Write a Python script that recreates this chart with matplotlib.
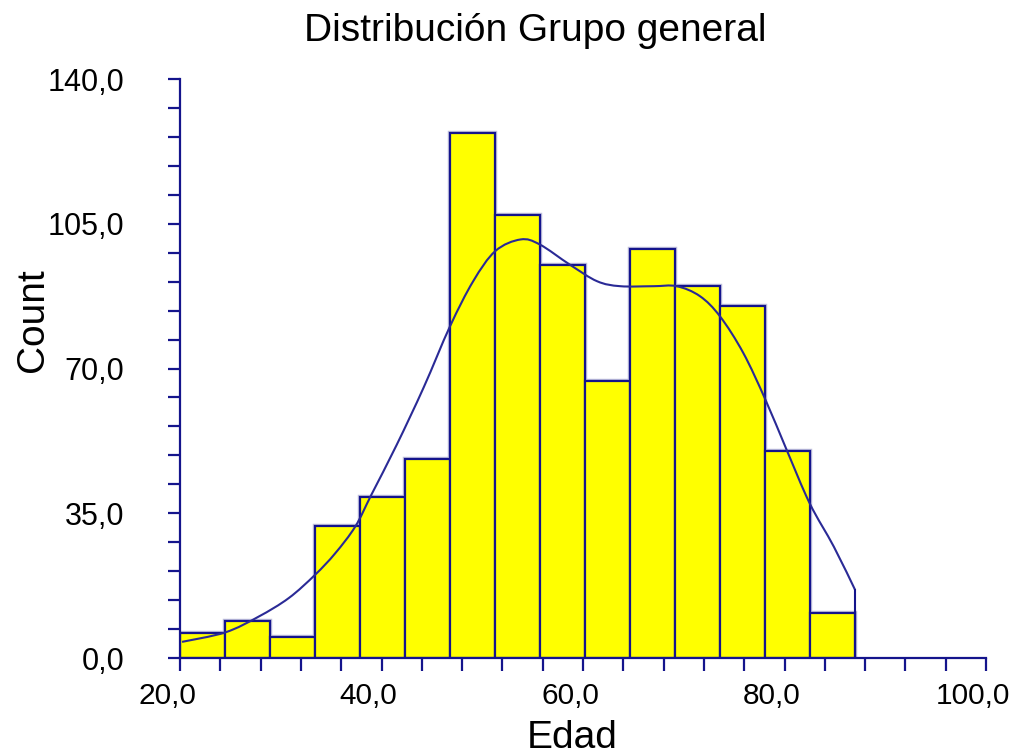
import numpy as np
import matplotlib
matplotlib.use("Agg")
import matplotlib.pyplot as plt
from matplotlib.ticker import MultipleLocator, FuncFormatter
from matplotlib.path import Path
from matplotlib.patches import PathPatch
from matplotlib.transforms import ScaledTranslation

plt.rcParams['font.family'] = ['Liberation Sans', 'DejaVu Sans']

# histogram of ages: 15 bins from 20 to 87
bin_lo = 20.0
bin_hi = 87.0
counts = [6, 9, 5, 32, 39, 48, 127, 107, 95, 67, 99, 90, 85, 50, 11]

# smoothed density curve (scaled to counts)
curve_x = [20.2, 24.5, 27.8, 30.8, 33.4, 35.4, 37.4, 39.0, 41.5, 44.2, 46.8,
           49.1, 51.3, 53.8, 55.7, 58.7, 61.4, 63.7, 67.0, 69.3, 71.6, 73.6,
           75.9, 78.1, 80.2, 82.5, 84.9, 87.0]
curve_y = [3.9, 6.2, 10.0, 14.5, 20.1, 25.3, 31.8, 39.5, 51.5, 65.5, 80.2,
           91.1, 98.4, 101.2, 100.0, 95.1, 91.1, 89.9, 89.9, 89.9, 87.5, 82.6,
           73.8, 62.5, 50.4, 37.4, 26.9, 16.5]

navy = '#14148c'
edges = np.linspace(bin_lo, bin_hi, len(counts) + 1)
widths = np.diff(edges)


def smooth_path(xs, ys):
    # Catmull-Rom through the points, drawn as cubic Bezier segments
    p = np.column_stack([xs, ys])
    verts = [p[0]]
    codes = [Path.MOVETO]
    for i in range(len(p) - 1):
        p0 = p[i - 1] if i > 0 else p[i]
        p3 = p[i + 2] if i + 2 < len(p) else p[i + 1]
        c1 = p[i] + (p[i + 1] - p0) / 6
        c2 = p[i + 1] - (p3 - p[i]) / 6
        verts += [c1, c2, p[i + 1]]
        codes += [Path.CURVE4] * 3
    return Path(verts, codes)


fig = plt.figure(figsize=(10.15, 7.55), dpi=100)
ax = fig.add_axes([180 / 1015, 1 - 658 / 755, 806 / 1015, 579 / 755])

# soft shadow on bar outlines, then the bars
ax.bar(edges[:-1], counts, width=widths, align='edge', color='none',
       edgecolor='#c0c0dc', linewidth=3.2, zorder=1)
ax.bar(edges[:-1], counts, width=widths, align='edge', color='#ffff00',
       edgecolor=navy, linewidth=1.6, zorder=2)

ax.add_patch(PathPatch(smooth_path(curve_x, curve_y), facecolor='none',
                       edgecolor='#2a2a96', linewidth=1.5, zorder=3))
ax.plot([curve_x[-1], curve_x[-1]], [0, curve_y[-1]], color=navy,
        linewidth=1.5, zorder=3)

ax.set_xlim(20, 100)
ax.set_ylim(0, 140)
for s in ['top', 'right']:
    ax.spines[s].set_visible(False)
for s in ['left', 'bottom']:
    ax.spines[s].set_color(navy)
    ax.spines[s].set_linewidth(1.6)

ax.xaxis.set_major_locator(MultipleLocator(20))
ax.xaxis.set_minor_locator(MultipleLocator(4))
ax.yaxis.set_major_locator(MultipleLocator(35))
ax.yaxis.set_minor_locator(MultipleLocator(7))
fmt = FuncFormatter(lambda v, p: f"{v:.1f}".replace('.', ','))
ax.xaxis.set_major_formatter(fmt)
ax.yaxis.set_major_formatter(fmt)

ax.tick_params(which='both', direction='out', color=navy, width=1.6, length=9)
ax.tick_params(axis='x', which='major', labelsize=21.5, pad=8)
ax.tick_params(axis='y', which='major', labelsize=22, pad=31)

# x tick labels sit a little left of their ticks
shift = ScaledTranslation(-13 / 100, 0, fig.dpi_scale_trans)
for lab in ax.get_xticklabels():
    lab.set_transform(lab.get_transform() + shift)

fig.text(535 / 1015, 1 - 31 / 755, 'Distribución Grupo general',
         ha='center', va='center', fontsize=28)
fig.text(572 / 1015, 1 - 738 / 755, 'Edad', ha='center', va='center',
         fontsize=28)
fig.text(33 / 1015, 1 - 320 / 755, 'Count', ha='center', va='center',
         fontsize=28, rotation=90)

fig.savefig('out.png', dpi=100)
